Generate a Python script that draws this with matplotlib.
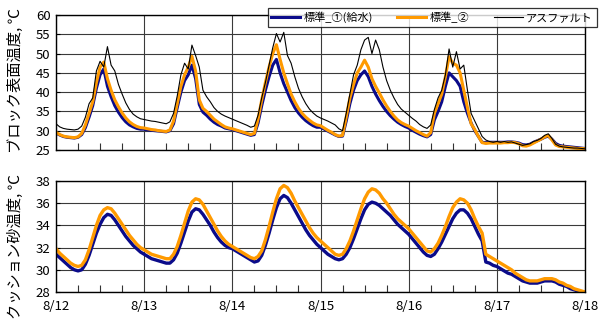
import numpy as np
import matplotlib
matplotlib.use("Agg")
import matplotlib.pyplot as plt
from matplotlib.ticker import MultipleLocator

plt.rcParams['font.family'] = ['Noto Sans CJK JP', 'DejaVu Sans']

# hourly readings, 8/12 00:00 .. 8/18 00:00
day_labels = ["8/12", "8/13", "8/14", "8/15", "8/16", "8/17", "8/18"]
series_names = ["標準_①(給水)", "標準_②", "アスファルト"]

# block surface temperature
surface_std1 = [
    29.4, 28.9, 28.5, 28.3, 28.2, 28.1, 28.3, 29.0, 30.8, 33.5, 36.5, 41.0, 44.5, 46.0, 41.5, 38.8, 36.5, 34.8, 33.4, 32.3, 31.5, 31.0, 30.6, 30.4,
    30.4, 30.2, 30.1, 30.0, 29.9, 29.8, 29.7, 30.0, 31.8, 36.0, 40.0, 43.0, 44.5, 47.0, 43.5, 36.8, 34.8, 34.0, 33.0, 32.2, 31.6, 31.2, 30.7, 30.5,
    30.3, 30.0, 29.7, 29.4, 29.1, 28.8, 29.0, 32.0, 36.5, 40.5, 44.0, 47.0, 48.5, 45.0, 42.2, 40.0, 37.8, 36.0, 34.6, 33.5, 32.6, 31.9, 31.3, 30.9,
    30.9, 30.4, 29.9, 29.4, 28.9, 28.5, 28.6, 32.5, 37.0, 40.5, 43.0, 44.5, 45.5, 44.0, 41.5, 39.5, 37.8, 36.3, 35.0, 33.9, 33.0, 32.2, 31.6, 31.1,
    30.7, 30.1, 29.6, 29.1, 28.7, 28.4, 29.0, 32.8, 35.0, 37.5, 41.5, 45.0, 44.0, 43.0, 41.5, 37.5, 34.5, 32.0, 30.0, 28.5, 27.0, 26.9, 27.0, 27.0,
    27.0, 27.0, 27.0, 27.1, 27.1, 27.0, 26.8, 26.4, 26.3, 26.5, 27.0, 27.4, 27.8, 28.3, 28.6, 27.8, 26.7, 26.2, 26.0, 25.9, 25.8, 25.7, 25.6, 25.5,
    25.4,
]
surface_std2 = [
    29.6, 29.0, 28.6, 28.4, 28.3, 28.2, 28.4, 29.3, 31.5, 34.5, 37.5, 42.5, 46.5, 47.8, 43.5, 40.5, 38.0, 36.2, 34.6, 33.3, 32.3, 31.6, 31.1, 30.8,
    30.7, 30.5, 30.3, 30.2, 30.0, 29.9, 29.8, 30.2, 32.5, 37.0, 41.5, 44.5, 46.5, 49.3, 45.5, 38.0, 35.8, 35.0, 34.0, 33.0, 32.3, 31.6, 31.0, 30.7,
    30.5, 30.2, 29.9, 29.6, 29.3, 29.0, 29.3, 33.0, 38.0, 42.5, 46.5, 50.0, 52.3, 48.5, 45.0, 42.2, 39.5, 37.5, 35.8, 34.5, 33.5, 32.7, 32.0, 31.5,
    31.3, 30.7, 30.1, 29.6, 29.0, 28.6, 28.8, 33.5, 38.5, 42.0, 45.0, 46.5, 48.3, 46.5, 43.5, 41.5, 39.8, 38.0, 36.4, 35.0, 33.8, 32.8, 32.1, 31.6,
    31.2, 30.6, 30.0, 29.5, 29.0, 28.6, 29.5, 34.5, 37.0, 39.5, 44.0, 49.2, 47.5, 47.0, 45.0, 40.5, 36.0, 31.8, 30.3, 28.5, 26.9, 26.7, 26.8, 26.8,
    26.8, 26.8, 26.9, 26.9, 27.0, 26.9, 26.6, 26.1, 26.0, 26.3, 26.8, 27.3, 27.8, 28.4, 28.8, 27.6, 26.3, 25.9, 25.8, 25.7, 25.6, 25.5, 25.4, 25.4,
    25.3,
]
surface_asphalt = [
    31.8, 31.0, 30.6, 30.4, 30.3, 30.2, 30.4, 31.2, 33.5, 37.0, 38.5, 45.5, 48.0, 46.5, 51.8, 47.0, 45.5, 42.0, 39.5, 37.2, 35.5, 34.3, 33.6, 33.1,
    32.9, 32.7, 32.5, 32.4, 32.2, 32.0, 31.8, 32.3, 34.5, 39.0, 44.5, 47.5, 46.0, 52.2, 49.5, 46.5, 40.5, 38.8, 37.5, 36.0, 35.0, 34.3, 33.8, 33.4,
    33.0, 32.6, 32.2, 31.8, 31.4, 30.9, 31.2, 34.0, 38.5, 42.5, 47.0, 51.5, 55.2, 53.0, 55.5, 49.5, 47.5, 44.0, 41.0, 38.8, 37.0, 35.6, 34.6, 33.8,
    33.3, 32.9, 32.5, 32.0, 31.5, 30.5, 30.0, 34.5, 39.5, 44.5, 47.0, 51.0, 53.5, 54.2, 50.0, 53.5, 51.0, 46.5, 43.0, 40.5, 38.5, 36.8, 35.6, 34.8,
    34.0, 33.2, 32.5, 31.6, 31.0, 30.6, 31.5, 35.5, 38.5, 40.5, 44.5, 51.2, 46.5, 50.5, 46.0, 47.0, 40.5, 34.5, 32.5, 30.5, 28.5, 27.6, 27.2, 27.0,
    27.2, 27.0, 27.2, 27.0, 27.1, 26.8, 26.5, 26.2, 26.4, 26.6, 27.2, 27.5, 28.0, 28.8, 29.2, 28.0, 26.5, 26.0, 25.8, 25.7, 25.6, 25.5, 25.5, 25.4,
    25.3,
]

# cushion sand temperature
sand_std1 = [
    31.4, 31.1, 30.8, 30.5, 30.2, 30.0, 29.9, 30.0, 30.5, 31.3, 32.3, 33.3, 34.1, 34.7, 35.0, 34.9, 34.5, 34.0, 33.5, 33.0, 32.6, 32.2, 31.9, 31.6,
    31.4, 31.2, 31.0, 30.9, 30.8, 30.7, 30.6, 30.6, 30.9, 31.5, 32.4, 33.4, 34.4, 35.2, 35.5, 35.4, 35.0, 34.5, 34.0, 33.4, 32.9, 32.5, 32.2, 32.0,
    31.9, 31.7, 31.5, 31.3, 31.1, 30.9, 30.7, 30.8, 31.3, 32.2, 33.3, 34.5, 35.6, 36.4, 36.7, 36.5, 36.0, 35.4, 34.8, 34.2, 33.6, 33.1, 32.7, 32.3,
    32.0, 31.7, 31.4, 31.2, 31.0, 30.9, 31.0, 31.4, 32.0, 32.8, 33.7, 34.6, 35.4, 35.9, 36.1, 36.0, 35.8, 35.5, 35.2, 34.9, 34.5, 34.1, 33.8, 33.5,
    33.2, 32.8, 32.4, 32.0, 31.6, 31.3, 31.2, 31.4, 31.9, 32.5, 33.2, 33.9, 34.6, 35.1, 35.4, 35.4, 35.1, 34.6, 33.9, 33.2, 32.6, 30.7, 30.6, 30.4,
    30.3, 30.1, 29.9, 29.7, 29.6, 29.4, 29.2, 29.0, 28.9, 28.8, 28.8, 28.8, 28.9, 29.0, 29.0, 29.0, 28.9, 28.7, 28.6, 28.5, 28.3, 28.2, 28.1, 28.0,
    27.9,
]
sand_std2 = [
    31.9, 31.5, 31.2, 30.9, 30.6, 30.4, 30.3, 30.4, 30.9, 31.8, 32.9, 34.0, 34.9, 35.4, 35.6, 35.5, 35.1, 34.6, 34.1, 33.6, 33.1, 32.7, 32.3, 32.0,
    31.8, 31.6, 31.4, 31.3, 31.2, 31.1, 31.0, 31.0, 31.4, 32.1, 33.1, 34.2, 35.3, 36.1, 36.4, 36.3, 35.9, 35.3, 34.7, 34.1, 33.5, 33.0, 32.6, 32.3,
    32.1, 31.9, 31.7, 31.5, 31.3, 31.1, 31.0, 31.2, 31.7, 32.7, 33.9, 35.2, 36.4, 37.3, 37.6, 37.4, 36.9, 36.2, 35.6, 35.0, 34.4, 33.8, 33.3, 32.9,
    32.6, 32.3, 32.0, 31.7, 31.4, 31.3, 31.4, 31.9, 32.6, 33.5, 34.5, 35.5, 36.4, 37.0, 37.3, 37.2, 36.9, 36.4, 36.0, 35.5, 35.0, 34.6, 34.3, 34.0,
    33.7, 33.3, 32.9, 32.5, 32.1, 31.7, 31.6, 31.9, 32.4, 33.1, 33.9, 34.8, 35.6, 36.1, 36.4, 36.3, 36.0, 35.4, 34.6, 33.9, 33.3, 31.4, 31.2, 31.0,
    30.8, 30.6, 30.4, 30.2, 30.0, 29.7, 29.5, 29.3, 29.1, 29.0, 29.0, 29.0, 29.1, 29.2, 29.2, 29.2, 29.1, 28.9, 28.8, 28.6, 28.5, 28.3, 28.2, 28.1,
    28.0,
]

hours = np.arange(len(surface_std1))
day_ticks = np.arange(0, 24 * len(day_labels), 24)

BLUE = "#0b0b8a"
ORANGE = "#ff9a00"

fig = plt.figure(figsize=(6.03, 3.27), dpi=100)
W, H = 603, 327
ax1 = fig.add_axes([56 / W, 1 - 150 / H, (585 - 56) / W, 135 / H])
ax2 = fig.add_axes([56 / W, 1 - 292 / H, (585 - 56) / W, 111 / H])


def style_axis(ax, ymin, ymax, ystep):
    ax.set_xlim(day_ticks[0], day_ticks[-1])
    ax.set_ylim(ymin, ymax)
    ax.yaxis.set_major_locator(MultipleLocator(ystep))
    ax.set_xticks(day_ticks)
    ax.xaxis.set_minor_locator(MultipleLocator(6))
    ax.tick_params(axis="x", which="minor", direction="in", length=5, width=0.8, color="#333333")
    ax.tick_params(axis="x", which="major", length=0, pad=6)
    ax.tick_params(axis="y", direction="in", length=3, width=0.8, pad=4, labelsize=9.5)
    ax.tick_params(axis="x", labelsize=9.5)
    ax.grid(True, which="major", color="#3a3a3a", linewidth=0.8)
    for s in ax.spines.values():
        s.set_color("black")
        s.set_linewidth(1.0)
    ax.set_axisbelow(True)


style_axis(ax1, 25, 60, 5)
style_axis(ax2, 28, 38, 2)
ax1.set_xticklabels([])
ax2.set_xticklabels(day_labels)

l1, = ax1.plot(hours, surface_std1, color=BLUE, lw=2.2, solid_joinstyle="round")
l2, = ax1.plot(hours, surface_std2, color=ORANGE, lw=2.2, solid_joinstyle="round")
l3, = ax1.plot(hours, surface_asphalt, color="black", lw=0.8)

ax2.plot(hours, sand_std1, color=BLUE, lw=2.4, solid_joinstyle="round")
ax2.plot(hours, sand_std2, color=ORANGE, lw=2.4, solid_joinstyle="round")

fig.text(15 / W, 1 - 81 / H, "ブロック表面温度, ℃", rotation=90, ha="center", va="center", fontsize=11)
fig.text(15 / W, 1 - 247 / H, "クッション砂温度, ℃", rotation=90, ha="center", va="center", fontsize=11)

leg = fig.legend([l1, l2, l3], series_names, loc="upper left", bbox_to_anchor=(262 / W, 1 - 2 / H),
                 ncol=3, fontsize=8, frameon=True, fancybox=False, edgecolor="black",
                 handlelength=2.6, columnspacing=2.2, borderpad=0.35, handletextpad=0.3)
leg.get_frame().set_linewidth(0.9)

fig.savefig("out.png", dpi=100)
